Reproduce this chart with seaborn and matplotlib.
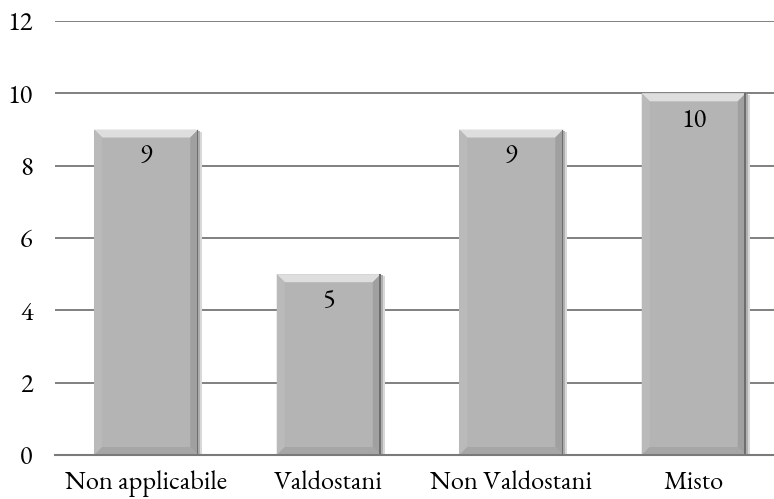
import matplotlib
matplotlib.use("Agg")
import matplotlib.pyplot as plt
from matplotlib.patches import Polygon, Rectangle
from matplotlib import font_manager as fm
import seaborn as sns
import pandas as pd

categories = ["Non applicabile", "Valdostani", "Non Valdostani", "Misto"]
values = [9, 5, 9, 10]
y_ticks = [0, 2, 4, 6, 8, 10, 12]

sns.set_theme(style="white")
available = {f.name for f in fm.fontManager.ttflist}
serif_font = next((n for n in ["EB Garamond", "Cormorant Garamond", "Liberation Serif"]
                   if n in available), "DejaVu Serif")
plt.rcParams["font.family"] = [serif_font, "DejaVu Serif"]

W, H, DPI = 774, 499, 100
fig = plt.figure(figsize=(W / DPI, H / DPI), dpi=DPI)
left, right = 55 / W, 1.0
bottom, top = (H - 455) / H, (H - 21) / H
ax = fig.add_axes([left, bottom, right - left, top - bottom])

df = pd.DataFrame({"cat": categories, "val": values})
face = "#b4b4b4"
sns.barplot(data=df, x="cat", y="val", color=face, saturation=1, width=0.57,
            ax=ax, zorder=3, edgecolor="none")

xmin, xmax = -0.5, -0.5 + (W - 55) / 182.5
ax.set_xlim(xmin, xmax)
ax.set_ylim(0, 12)
ax.set_yticks(y_ticks)
ax.set_yticklabels([str(t) for t in y_ticks])

ax.grid(axis="y", color="#808080", linewidth=1.4, zorder=0)
ax.grid(axis="x", visible=False)
for s in ["left", "right", "top"]:
    ax.spines[s].set_visible(False)
ax.spines["bottom"].set_color("#7a7a7a")
ax.spines["bottom"].set_linewidth(1.5)
ax.spines["bottom"].set_zorder(5)
ax.tick_params(axis="y", length=0, pad=16, colors="#000000")
ax.tick_params(axis="x", length=0, pad=11, colors="#000000")
for lab in ax.get_xticklabels() + ax.get_yticklabels():
    lab.set_fontfamily(serif_font)
    lab.set_fontsize(19)
ax.set_xlabel("")
ax.set_ylabel("")

# bevel and shadow per bar, sized in pixels
ax_w_px = (right - left) * W
ax_h_px = (top - bottom) * H
px_x = (xmax - xmin) / ax_w_px
px_y = 12 / ax_h_px
b = 8
bx, by = b * px_x, b * px_y
for p in ax.patches:
    x0, w, h = p.get_x(), p.get_width(), p.get_height()
    x1, y0, y1 = x0 + w, 0, h
    # drop shadow on the right
    ax.add_patch(Rectangle((x1, y0), 4 * px_x, h - 2 * px_y, facecolor="#d8d8d8",
                           edgecolor="none", zorder=2.5))
    ax.add_patch(Rectangle((x1, y0), 2 * px_x, h - 1 * px_y, facecolor="#b0b0b0",
                           edgecolor="none", zorder=2.6))
    polys = [
        ([(x0, y1), (x1, y1), (x1 - bx, y1 - by), (x0 + bx, y1 - by)], "#dedede"),
        ([(x0, y0), (x0, y1), (x0 + bx, y1 - by), (x0 + bx, y0 + by)], "#bababa"),
        ([(x1, y0), (x1, y1), (x1 - bx, y1 - by), (x1 - bx, y0 + by)], "#a0a0a0"),
        ([(x0, y0), (x1, y0), (x1 - bx, y0 + by), (x0 + bx, y0 + by)], "#a6a6a6"),
    ]
    for pts, c in polys:
        ax.add_patch(Polygon(pts, closed=True, facecolor=c, edgecolor="none", zorder=4))
    ax.add_patch(Rectangle((x1 - 1.5 * px_x, y0), 1.5 * px_x, h, facecolor="#6e6e6e",
                           edgecolor="none", zorder=4.1))

# value labels inside the top of each bar
for i, v in enumerate(values):
    ax.annotate(str(v), (i, v), xytext=(0, -28 * 72 / DPI), textcoords="offset points",
                ha="center", va="center", fontsize=19, family=serif_font,
                color="#000000", zorder=6)

fig.savefig("out.png", dpi=DPI)
